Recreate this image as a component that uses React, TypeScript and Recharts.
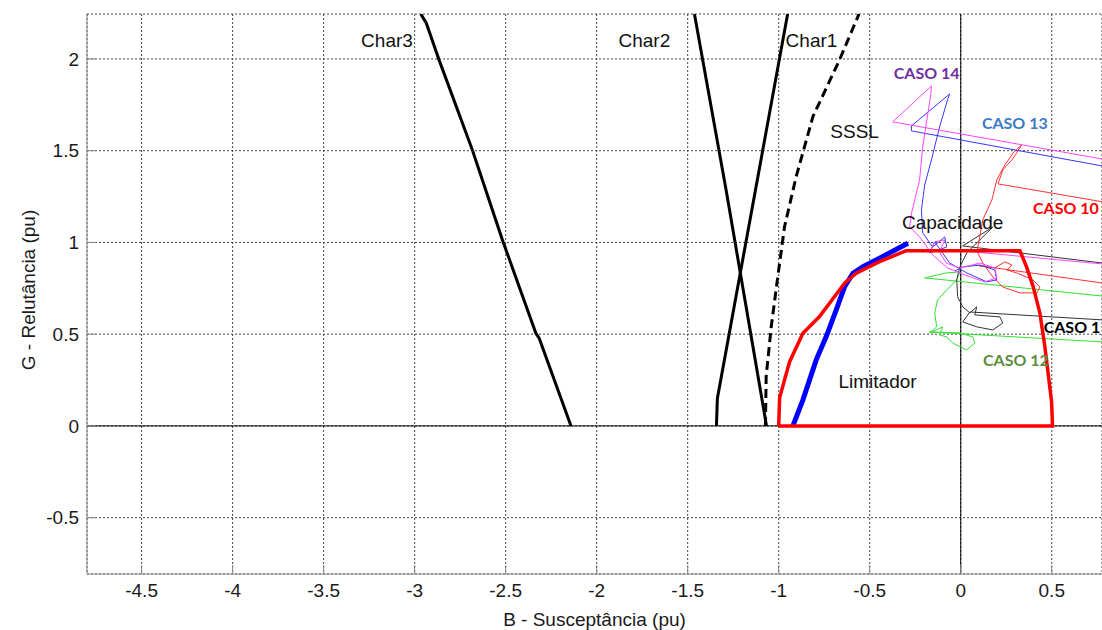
import { LineChart, Line, XAxis, YAxis, CartesianGrid, ReferenceLine, ReferenceDot, Label } from "recharts";

// axis ticks
const bTicks = [-4.5, -4, -3.5, -3, -2.5, -2, -1.5, -1, -0.5, 0, 0.5];
const gTicks = [-0.5, 0, 0.5, 1, 1.5, 2];

// [B, G] pairs
const char1 = [[-1.342, 0], [-1.337, 0.15], [-0.951, 2.245]];
const char2 = [[-1.067, 0], [-1.289, 1.286], [-1.463, 2.245]];
const char3 = [
  [-2.141, 0], [-2.316, 0.478], [-2.334, 0.505], [-2.518, 1.014],
  [-2.683, 1.504], [-2.866, 1.995], [-2.936, 2.195], [-2.966, 2.245],
];
const sssl = [
  [-1.073, 0], [-1.069, 0.269], [-1.041, 0.541], [-1.005, 0.814], [-0.968, 1.086],
  [-0.904, 1.359], [-0.812, 1.686], [-0.666, 1.995], [-0.559, 2.245],
];
const limitador = [
  [-1.0, 0], [-0.995, 0.153], [-0.968, 0.251], [-0.94, 0.35], [-0.867, 0.505],
  [-0.776, 0.596], [-0.638, 0.778], [-0.574, 0.832], [-0.446, 0.895], [-0.3, 0.955],
  [0.325, 0.955], [0.361, 0.868], [0.398, 0.759], [0.435, 0.614], [0.462, 0.432],
  [0.48, 0.287], [0.499, 0.132], [0.504, 0], [-1.0, 0],
];
const capacidade = [
  [-0.922, 0], [-0.867, 0.142], [-0.794, 0.36], [-0.739, 0.487], [-0.684, 0.632],
  [-0.638, 0.759], [-0.592, 0.832], [-0.537, 0.868], [-0.446, 0.914], [-0.29, 0.996],
];

const caso14 = [
  [0.776, 0.883], [0.011, 0.954], [-0.116, 0.959], [-0.171, 0.948], [-0.143, 1.003],
  [-0.088, 1.014], [-0.116, 0.948], [-0.079, 0.887], [-0.005, 0.861], [0.105, 0.888],
  [0.187, 0.861], [0.198, 0.807], [0.132, 0.785], [0.022, 0.823], [-0.072, 0.861],
  [-0.154, 0.932], [-0.226, 1.03], [-0.281, 1.084], [-0.27, 1.161], [-0.226, 1.341],
  [-0.209, 1.52], [-0.165, 1.804], [-0.161, 1.853], [-0.374, 1.657], [0.776, 1.455],
];
const caso13 = [
  [0.776, 1.417], [-0.271, 1.608], [-0.271, 1.635], [-0.061, 1.809], [-0.07, 1.786],
  [-0.116, 1.631], [-0.161, 1.45], [-0.198, 1.313], [-0.216, 1.177], [-0.209, 1.052],
  [-0.154, 0.975], [-0.088, 1.03], [-0.077, 0.975], [-0.171, 0.943], [-0.143, 1.003],
  [-0.061, 0.888], [0.033, 0.834], [0.143, 0.785], [0.198, 0.796], [0.187, 0.85],
  [0.105, 0.877], [0.011, 0.866], [-0.033, 0.845],
];
const caso10 = [
  [0.776, 1.222], [0.205, 1.319], [0.231, 1.395], [0.281, 1.45], [0.308, 1.488],
  [0.334, 1.531], [0.292, 1.493], [0.242, 1.422], [0.198, 1.341], [0.171, 1.232],
  [0.121, 1.123], [0.094, 0.975], [0.094, 0.943], [0.121, 0.888], [0.176, 0.812],
  [0.231, 0.757], [0.325, 0.725], [0.418, 0.725], [0.435, 0.757], [0.396, 0.796],
  [0.308, 0.834], [0.253, 0.85], [0.281, 0.877], [0.242, 0.894], [0.187, 0.861],
  [0.077, 0.877], [0.776, 0.779],
];
const caso1 = [
  [0.776, 0.888], [0.011, 0.981], [0.176, 1.084], [0.033, 0.943], [-0.005, 0.866],
  [-0.022, 0.796], [-0.017, 0.703], [0.011, 0.649], [0.05, 0.616], [0.088, 0.649],
  [0.077, 0.605], [0.215, 0.594], [0.231, 0.561], [0.176, 0.523], [0.088, 0.54],
  [0.011, 0.567], [0.05, 0.621], [0.776, 0.578],
];
const caso12 = [
  [0.776, 0.708], [-0.198, 0.807], [-0.079, 0.834], [-0.005, 0.839], [-0.022, 0.796],
  [-0.077, 0.741], [-0.127, 0.687], [-0.143, 0.616], [-0.132, 0.54], [-0.171, 0.507],
  [-0.099, 0.54], [-0.116, 0.496], [-0.077, 0.485], [-0.044, 0.452], [0.033, 0.414],
  [0.077, 0.452], [0.066, 0.485], [-0.005, 0.507], [-0.171, 0.512], [0.776, 0.458],
];

const toPts = (arr: number[][]) => arr.map(([b, g]) => ({ b, g }));

const ARIAL = "Liberation Sans, Arial, sans-serif";
const CAL = "Lato, Carlito, sans-serif";

const notes = [
  { text: "Char3", b: -3.152, g: 2.104, color: "#111", font: ARIAL, size: 19, weight: 400 },
  { text: "Char2", b: -1.738, g: 2.104, color: "#111", font: ARIAL, size: 19, weight: 400 },
  { text: "Char1", b: -0.82, g: 2.104, color: "#111", font: ARIAL, size: 19, weight: 400 },
  { text: "SSSL", b: -0.583, g: 1.608, color: "#111", font: ARIAL, size: 19, weight: 400 },
  { text: "Capacidade", b: -0.044, g: 1.112, color: "#111", font: ARIAL, size: 19, weight: 400 },
  { text: "Limitador", b: -0.457, g: 0.245, color: "#111", font: ARIAL, size: 19, weight: 400 },
  { text: "CASO 14", b: -0.187, g: 1.924, color: "#7030A0", font: CAL, size: 16, weight: 700 },
  { text: "CASO 13", b: 0.297, g: 1.651, color: "#3C7BC4", font: CAL, size: 16, weight: 700 },
  { text: "CASO 10", b: 0.578, g: 1.188, color: "#FF0000", font: CAL, size: 16, weight: 700 },
  { text: "CASO 1", b: 0.611, g: 0.54, color: "#000", font: CAL, size: 16, weight: 700 },
  { text: "CASO 12", b: 0.303, g: 0.36, color: "#5E8C3F", font: CAL, size: 16, weight: 700 },
];

const thin = (data: number[][], color: string, key: string) => (
  <Line
    key={key}
    data={toPts(data)}
    dataKey="g"
    type="linear"
    stroke={color}
    strokeWidth={1}
    dot={false}
    activeDot={false}
    isAnimationActive={false}
  />
);

export default function App() {
  return (
    <div style={{ position: "absolute", left: 0, top: 0, background: "#fff" }}>
      <LineChart width={1102} height={630} margin={{ top: 14, right: 0, bottom: 0, left: 0 }}>
        <CartesianGrid stroke="#444" strokeDasharray="2 2" strokeWidth={1} />
        <XAxis
          type="number"
          dataKey="b"
          domain={[-4.8, 0.776]}
          allowDataOverflow
          ticks={bTicks}
          interval={0}
          height={56}
          stroke="#888"
          tickSize={-9}
          tickMargin={19}
          tick={{ fontSize: 19, fill: "#1a1a1a", fontFamily: ARIAL }}
        >
          <Label
            content={({ viewBox }: any) => (
              <text
                x={viewBox.x + viewBox.width / 2}
                y={626}
                textAnchor="middle"
                fontSize={19}
                fontFamily={ARIAL}
                fill="#1a1a1a"
              >
                B - Susceptância (pu)
              </text>
            )}
          />
        </XAxis>
        <YAxis
          type="number"
          domain={[-0.807, 2.245]}
          allowDataOverflow
          ticks={gTicks}
          interval={0}
          width={87}
          stroke="#888"
          tickSize={-9}
          tickMargin={17}
          tick={{ fontSize: 19, fill: "#1a1a1a", fontFamily: ARIAL }}
        >
          <Label
            content={({ viewBox }: any) => {
              const cx = 28;
              const cy = viewBox.y + viewBox.height / 2 - 4;
              return (
                <text
                  x={cx}
                  y={cy}
                  transform={`rotate(-90, ${cx}, ${cy})`}
                  textAnchor="middle"
                  dominantBaseline="central"
                  fontSize={19}
                  fontFamily={ARIAL}
                  fill="#1a1a1a"
                >
                  G - Relutância (pu)
                </text>
              );
            }}
          />
        </YAxis>
        <ReferenceLine x={0} stroke="#000" strokeWidth={1} />
        <ReferenceLine y={0} stroke="#000" strokeWidth={1} />

        {thin(caso12, "#33E033", "c12")}
        {thin(caso1, "#333333", "c1")}
        {thin(caso10, "#FF3333", "c10")}
        {thin(caso13, "#3838FF", "c13")}
        {thin(caso14, "#FF44FF", "c14")}

        <Line data={toPts(char3)} dataKey="g" stroke="#000" strokeWidth={3} dot={false} activeDot={false} isAnimationActive={false} />
        <Line data={toPts(char2)} dataKey="g" stroke="#000" strokeWidth={3} dot={false} activeDot={false} isAnimationActive={false} />
        <Line data={toPts(char1)} dataKey="g" stroke="#000" strokeWidth={3} dot={false} activeDot={false} isAnimationActive={false} />
        <Line data={toPts(sssl)} dataKey="g" stroke="#000" strokeWidth={3} strokeDasharray="9 5" dot={false} activeDot={false} isAnimationActive={false} />
        <Line data={toPts(capacidade)} dataKey="g" stroke="#0000FF" strokeWidth={5} dot={false} activeDot={false} isAnimationActive={false} />
        <Line data={toPts(limitador)} dataKey="g" stroke="#FF0000" strokeWidth={3.5} dot={false} activeDot={false} isAnimationActive={false} />

        {notes.map((n) => (
          <ReferenceDot
            key={n.text}
            x={n.b}
            y={n.g}
            r={0}
            stroke="none"
            fill="none"
            label={{
              value: n.text,
              position: "center",
              fill: n.color,
              fontSize: n.size,
              fontWeight: n.weight,
              fontFamily: n.font,
            }}
          />
        ))}
      </LineChart>
    </div>
  );
}
